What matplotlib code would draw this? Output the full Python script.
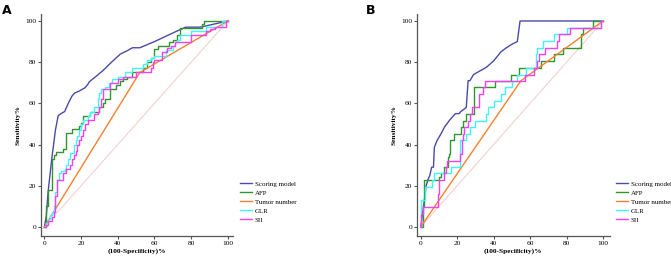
import numpy as np
import matplotlib
matplotlib.use("Agg")
from matplotlib import pyplot as plt

plt.rcParams['font.family'] = ['Liberation Serif', 'DejaVu Serif']

names = ['Scoring model', 'AFP', 'Tumor number', 'GLR', 'SII']
colors = ['#4a4aa8', '#2e962e', '#f7802f', '#3ff5f5', '#f43ff4']
ticks = [0, 20, 40, 60, 80, 100]

# panel A curves (100-specificity, sensitivity)
a_score_x = [0, 1, 2, 3, 4, 5, 6, 7.5, 9, 11, 13, 15, 16.5, 19, 22, 23.5, 24.5, 28, 32, 36, 39, 41.5, 45, 48, 52, 56, 60, 66, 72, 77, 85, 100]
a_score_y = [0, 5, 17, 25, 33, 40, 47, 54, 55, 56, 60, 63.5, 65, 66, 67.5, 69, 70.5, 73, 76, 79.5, 82, 84, 85.5, 87, 87, 88.5, 90, 92.5, 95, 97, 97, 100]
a_afp_x = [0, 1, 1, 2, 2, 4, 4, 5, 5, 6.5, 6.5, 10.4, 10.4, 11.6, 11.6, 12, 12, 15, 15, 16, 16, 19, 19, 20, 20, 21, 21, 24, 24, 25, 25, 29, 29, 30, 30, 32, 32, 33, 33, 36, 36, 39, 39, 41, 41, 43, 43, 45, 45, 48, 48, 51, 51, 54, 54, 56, 56, 58, 58, 60, 60, 62, 62, 68, 68, 70, 70, 72, 72, 74, 74, 78, 78, 86, 86, 87, 87, 100]
a_afp_y = [0, 0, 10, 10, 18, 18, 33, 33, 35, 35, 36.5, 36.5, 38, 38, 41, 41, 45.6, 45.6, 47.7, 47.7, 47.7, 47.7, 49, 49, 50.5, 50.5, 54, 54, 54, 54, 56, 56, 56, 56, 58, 58, 60, 60, 62, 62, 67, 67, 69, 69, 71, 71, 72, 72, 73, 73, 75, 75, 75, 75, 77, 77, 80, 80, 82, 82, 86.5, 86.5, 88, 88, 90, 90, 91, 91, 93, 93, 96.7, 96.7, 96.7, 96.7, 98.4, 98.4, 100, 100]
a_tumor_x = [0, 52, 100]
a_tumor_y = [0, 75, 100]
a_glr_x = [0, 1, 1, 2, 2, 3, 3, 4, 4, 5, 5, 6, 6, 7, 7, 8, 8, 9, 9, 11, 11, 12, 12, 13, 13, 14, 14, 16, 16, 17, 17, 18, 18, 19, 19, 20, 20, 21, 21, 22, 22, 24, 24, 25, 25, 27, 27, 29, 29, 30, 30, 31, 31, 33, 33, 35, 35, 37, 37, 40, 40, 44, 44, 48, 48, 54, 54, 56, 56, 58, 58, 60, 60, 66, 66, 70, 70, 71, 71, 72, 72, 74, 74, 80, 80, 88, 88, 92, 92, 97, 97, 98, 98, 100]
a_glr_y = [0, 0, 2, 2, 4, 4, 6, 6, 7, 7, 10, 10, 17, 17, 23, 23, 26, 26, 27, 27, 28, 28, 30, 30, 33, 33, 36, 36, 40, 40, 42, 42, 44, 44, 47, 47, 50, 50, 52, 52, 52, 52, 54, 54, 56, 56, 58, 58, 62, 62, 65, 65, 67, 67, 68, 68, 70, 70, 72, 72, 73, 73, 75, 75, 77, 77, 79, 79, 81, 81, 82, 82, 83, 83, 86, 86, 88, 88, 90, 90, 91, 91, 93, 93, 95, 95, 97, 97, 97, 97, 100, 100, 100, 100]
a_sii_x = [0, 1, 1, 2, 2, 4, 4, 5, 5, 6, 6, 7, 7, 10, 10, 12, 12, 14, 14, 15, 15, 16, 16, 17, 17, 18, 18, 19, 19, 20, 20, 21, 21, 22, 22, 24, 24, 27, 27, 29, 29, 30, 30, 31, 31, 32, 32, 36, 36, 40, 40, 43, 43, 50, 50, 58, 58, 59, 59, 60, 60, 64, 64, 67, 67, 69, 69, 71, 71, 80, 80, 88, 88, 90, 90, 93, 93, 99, 99, 100]
a_sii_y = [0, 0, 1, 1, 3, 3, 5, 5, 7, 7, 15, 15, 23, 23, 26, 26, 28, 28, 30, 30, 33, 33, 35, 35, 37, 37, 40, 40, 42, 42, 44, 44, 47, 47, 50, 50, 52, 52, 55, 55, 56, 56, 58, 58, 62, 62, 67, 67, 70, 70, 72, 72, 73, 73, 75, 75, 77, 77, 80, 80, 81, 81, 85, 85, 87, 87, 88, 88, 90, 90, 93, 93, 95, 95, 96, 96, 97, 97, 100, 100]

# panel B curves
b_score_x = [0, 1, 3, 4, 5, 6, 7, 7.5, 9, 11, 13, 16, 19, 21, 22, 25, 26, 27, 29, 31, 36, 40, 44, 47, 50, 53, 54.5, 100]
b_score_y = [0, 6, 20, 23, 25, 29, 29, 38.7, 42, 45, 48.4, 52, 55, 55, 56, 58, 71, 71, 74, 75, 77.5, 80.6, 85, 87, 88.7, 90, 100, 100]
b_afp_x = [0, 1, 1, 2, 2, 10, 10, 11.4, 11.4, 12.7, 12.7, 15, 15, 15.5, 15.5, 16, 16, 18, 18, 22, 22, 23, 23, 25, 25, 29, 29, 40.8, 40.8, 49.4, 49.4, 54, 54, 66, 66, 73.3, 73.3, 78, 78, 88, 88, 89, 89, 94.5, 94.5, 100]
b_afp_y = [0, 0, 10, 10, 22.6, 22.6, 24, 24, 26, 26, 29, 29, 34, 34, 35.5, 35.5, 42, 42, 45, 45, 48.5, 48.5, 51.6, 51.6, 55, 55, 67.7, 67.7, 71, 71, 74, 74, 77.4, 77.4, 80.6, 80.6, 83.9, 83.9, 87, 87, 93.5, 93.5, 96.8, 96.8, 100, 100]
b_tumor_x = [0, 55, 100]
b_tumor_y = [0, 71, 100]
b_glr_x = [0, 0, 2.5, 2.5, 6, 6, 7.4, 7.4, 16.5, 16.5, 21.5, 21.5, 25, 25, 27, 27, 30, 30, 36, 36, 37, 37, 40, 40, 44, 44, 46, 46, 50, 50, 53, 53, 58, 58, 63, 63, 64, 64, 67, 67, 73, 73, 80, 80, 86, 86, 99, 99, 100]
b_glr_y = [0, 13, 13, 19.4, 19.4, 22.6, 22.6, 26, 26, 29, 29, 42, 42, 45, 45, 48.4, 48.4, 51.6, 51.6, 55, 55, 58, 58, 61.3, 61.3, 64.5, 64.5, 67.7, 67.7, 71, 71, 74, 74, 77.4, 77.4, 84, 84, 87, 87, 90.3, 90.3, 93.5, 93.5, 96.8, 96.8, 96.8, 96.8, 100, 100]
b_sii_x = [0, 0, 1, 1, 9, 9, 9.5, 9.5, 10.3, 10.3, 12.7, 12.7, 14, 14, 14.5, 14.5, 21.5, 21.5, 22.5, 22.5, 23, 23, 24, 24, 26, 26, 27, 27, 28, 28, 32, 32, 34, 34, 35.5, 35.5, 57, 57, 62, 62, 64, 64, 65, 65, 68, 68, 75, 75, 76, 76, 82, 82, 99, 99, 100]
b_sii_y = [0, 6.5, 6.5, 9.7, 9.7, 9.7, 9.7, 16, 16, 22.6, 22.6, 26, 26, 29, 29, 32.2, 32.2, 35.5, 35.5, 42, 42, 45, 45, 48.4, 48.4, 51.6, 51.6, 54.8, 54.8, 58, 58, 64.5, 64.5, 67.7, 67.7, 71, 71, 74, 74, 77.4, 77.4, 80.6, 80.6, 83.9, 83.9, 87, 87, 90.3, 90.3, 93.5, 93.5, 96.8, 96.8, 100, 100]

panels = [
    ('A', [(a_score_x, a_score_y), (a_afp_x, a_afp_y), (a_tumor_x, a_tumor_y), (a_glr_x, a_glr_y), (a_sii_x, a_sii_y)]),
    ('B', [(b_score_x, b_score_y), (b_afp_x, b_afp_y), (b_tumor_x, b_tumor_y), (b_glr_x, b_glr_y), (b_sii_x, b_sii_y)]),
]

fig = plt.figure(figsize=(6.71, 2.59), dpi=100)
boxes = [[0.061, 0.089, 0.286, 0.857], [0.621, 0.089, 0.288, 0.857]]
xlims = [(-1.9, 102.7), (-2.2, 103.8)]
letter_x = [0.003, 0.545]
legend_x = [0.353, 0.913]

for i, (letter, curves) in enumerate(panels):
    ax = fig.add_axes(boxes[i])
    ax.plot([0, 100], [0, 100], color='#f2d0d0', lw=0.8, zorder=1)
    handles = [None] * 5
    for k in [2, 3, 4, 1, 0]:
        x, y = curves[k]
        h, = ax.plot(x, y, color=colors[k], lw=1.0, label=names[k], zorder=2 + k)
        handles[k] = h
    ax.set_xlim(*xlims[i])
    ax.set_ylim(-4.4, 103.4)
    ax.set_xticks(ticks)
    ax.set_yticks(ticks)
    ax.tick_params(labelsize=5.3, length=2.2, width=0.8, color='#555555', pad=1.2)
    for s in ['top', 'right']:
        ax.spines[s].set_visible(False)
    for s in ['left', 'bottom']:
        ax.spines[s].set_color('#555555')
        ax.spines[s].set_linewidth(0.9)
    ax.set_xlabel('(100-Specificity)%', fontsize=5.3, fontweight='bold', labelpad=1.5)
    ax.set_ylabel('Sensitivity%', fontsize=5.3, fontweight='bold', labelpad=3)
    fig.legend(handles, names, loc='upper left', bbox_to_anchor=(legend_x[i], 0.315),
               frameon=False, fontsize=5.0, handlelength=1.7, handletextpad=0.4,
               labelspacing=0.45, borderpad=0)
    fig.text(letter_x[i], 0.985, letter, fontsize=9, fontweight='bold',
             family='DejaVu Sans', va='top', ha='left')

fig.savefig('out.png', dpi=100)
